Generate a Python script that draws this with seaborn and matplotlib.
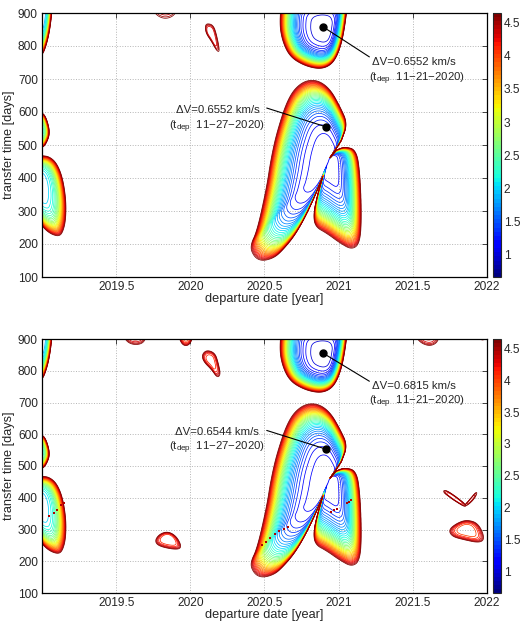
import numpy as np
import matplotlib
matplotlib.use("Agg")
import matplotlib.pyplot as plt
import seaborn as sns
from matplotlib.colors import Normalize
from matplotlib.ticker import FuncFormatter

# ---- values (year, days) ----
pinch = (2020.935, 457)

big_lobe = [(2021.02, 515), (2021.06, 565), (2021.01, 616), (2020.94, 672), (2020.85, 699),
            (2020.75, 692), (2020.66, 646), (2020.58, 535), (2020.54, 450), (2020.515, 374),
            (2020.45, 240), (2020.40, 192), (2020.43, 160), (2020.48, 148), (2020.55, 155),
            (2020.605, 172), (2020.717, 232), (2020.83, 333), (2020.90, 416)]
right_lobe = [(2020.985, 485), (2021.043, 495), (2021.12, 485), (2021.144, 414), (2021.155, 283),
              (2021.144, 202), (2021.09, 182), (2021.01, 202), (2020.92, 232), (2020.84, 252),
              (2020.83, 293), (2020.86, 354), (2020.905, 424)]
upper_lobe = [(2020.62, 960), (2020.60, 870), (2020.62, 815), (2020.67, 768), (2020.76, 742),
              (2020.86, 730), (2020.93, 737), (2020.98, 760), (2021.02, 808), (2021.045, 870),
              (2021.06, 930), (2021.0, 980), (2020.8, 990)]
left_top = [(2018.93, 990), (2019.03, 980), (2019.07, 930), (2019.062, 880), (2019.045, 830),
            (2019.02, 790), (2019.0, 772), (2018.97, 775), (2018.92, 840), (2018.91, 920)]
left_mid = [(2019.0, 600), (2019.03, 582), (2019.055, 537), (2019.03, 505), (2019.0, 490),
            (2018.95, 497), (2018.93, 545), (2018.95, 592)]
left_low = [(2018.93, 470), (2019.0, 468), (2019.05, 465), (2019.1, 445), (2019.14, 400),
            (2019.163, 330), (2019.16, 270), (2019.14, 235), (2019.115, 223), (2019.07, 228),
            (2019.03, 240), (2019.0, 255), (2018.93, 300), (2018.9, 390)]
drop_top = [(2020.111, 869), (2020.155, 864), (2020.178, 833), (2020.2, 783), (2020.18, 783),
            (2020.144, 813), (2020.106, 838), (2020.099, 859)]
bump_top = [(2019.73, 935), (2019.76, 895), (2019.83, 880), (2019.9, 893), (2019.93, 935),
            (2019.9, 980), (2019.83, 990), (2019.76, 975)]

drop_bot = [(2020.111, 866), (2020.167, 856), (2020.189, 824), (2020.205, 788), (2020.182, 777),
            (2020.144, 803), (2020.088, 829), (2020.077, 851)]
island_a = [(2019.762, 268), (2019.796, 287), (2019.852, 294), (2019.908, 278), (2019.942, 247),
            (2019.919, 236), (2019.829, 242), (2019.773, 252)]
island_b = [(2021.74, 299), (2021.796, 320), (2021.864, 331), (2021.942, 320), (2021.987, 273),
            (2021.953, 257), (2021.84, 268), (2021.763, 278)]
arm_left = [(2021.71, 425), (2021.74, 420), (2021.80, 400), (2021.86, 378), (2021.855, 370),
            (2021.80, 385), (2021.73, 408), (2021.705, 418)]
arm_right = [(2021.85, 372), (2021.88, 380), (2021.92, 400), (2021.935, 416), (2021.925, 418),
             (2021.89, 398), (2021.86, 382), (2021.845, 376)]
bump_b1 = [(2019.54, 920), (2019.57, 890), (2019.63, 880), (2019.69, 888), (2019.71, 920),
           (2019.68, 960), (2019.6, 965), (2019.55, 950)]
bump_b2 = [(2019.92, 910), (2019.94, 885), (2019.97, 877), (2020.0, 885), (2020.02, 910),
           (2020.0, 950), (2019.95, 950)]
bump_b3 = [(2021.52, 905), (2021.56, 885), (2021.62, 877), (2021.67, 890), (2021.68, 920),
           (2021.64, 955), (2021.56, 955)]
bump_b4 = [(2021.93, 925), (2021.95, 900), (2021.97, 895), (2021.99, 900), (2022.01, 925),
           (2021.97, 960)]

# lobe: (outline, centre, base dV, pinch?, steepness)
lobes_top = [
    (big_lobe, pinch, 1.05, True, 3.8),
    (right_lobe, pinch, 1.1, True, 3.0),
    (upper_lobe, (2020.91, 850), 0.95, False, 3.8),
    (left_top, (2018.99, 890), 1.8, False, 4.0),
    (left_mid, (2018.98, 545), 2.3, False, 4.0),
    (left_low, (2018.97, 385), 1.9, False, 3.5),
    (drop_top, (2020.135, 840), 4.2, False, 4.0),
    (bump_top, (2019.83, 935), 4.25, False, 4.0),
]
lobes_bot = [
    (big_lobe, pinch, 1.05, True, 3.8),
    (right_lobe, pinch, 1.1, True, 3.0),
    (upper_lobe, (2020.91, 850), 0.95, False, 3.8),
    (left_top, (2018.99, 890), 1.8, False, 4.0),
    (left_mid, (2018.98, 545), 2.3, False, 4.0),
    (left_low, (2018.97, 385), 1.9, False, 3.5),
    (drop_bot, (2020.135, 835), 4.05, False, 4.0),
    (island_a, (2019.85, 272), 4.0, False, 4.0),
    (island_b, (2021.86, 300), 3.93, False, 4.0),
    (arm_left, (2021.78, 398), 4.2, False, 4.0),
    (arm_right, (2021.89, 395), 4.35, False, 4.0),
    (bump_b1, (2019.62, 925), 4.1, False, 4.0),
    (bump_b2, (2019.97, 915), 3.9, False, 4.0),
    (bump_b3, (2021.6, 920), 4.15, False, 4.0),
    (bump_b4, (2021.97, 930), 4.4, False, 4.0),
]

track_x = [2019.05, 2019.08, 2019.10, 2019.13, 2019.145,
           2020.48, 2020.51, 2020.54, 2020.57, 2020.60, 2020.63, 2020.66,
           2020.95, 2020.97, 2020.99, 2021.055, 2021.07, 2021.08]
track_y = [343, 352, 362, 376, 384,
           250, 262, 274, 285, 295, 302, 308,
           355, 360, 366, 382, 388, 393]

# annotations: dot, line end, dV label, departure date, side of text
notes_top = [((2020.895, 858), (2021.207, 767), "ΔV=0.6552 km/s", "11−21−2020", "left"),
             ((2020.915, 555), (2020.515, 612), "ΔV=0.6552 km/s", "11−27−2020", "right")]
notes_bot = [((2020.893, 856), (2021.207, 767), "ΔV=0.6815 km/s", "11−21−2020", "left"),
             ((2020.915, 553), (2020.515, 612), "ΔV=0.6544 km/s", "11−27−2020", "right")]

VMIN, VMAX = 0.655, 4.65
levels = np.arange(0.7, 4.61, 0.1)
cbar_ticks = [1, 1.5, 2, 2.5, 3, 3.5, 4, 4.5]

SX, SY = 148.3, 0.33   # pixel aspect, so angles look right


def chaikin(P, closed, n=3):
    for _ in range(n):
        Q = np.roll(P, -1, axis=0) if closed else P[1:]
        A = P if closed else P[:-1]
        mid = np.empty((2 * len(A), 2))
        mid[0::2] = 0.75 * A + 0.25 * Q
        mid[1::2] = 0.25 * A + 0.75 * Q
        P = mid if closed else np.vstack([P[:1], mid, P[-1:]])
    return P


def lobe_field(X, Y, outline, center, vmin, is_pinch, q, vtop=4.62):
    cx, cy = center
    pts = chaikin(np.array(outline, float), closed=not is_pinch)
    du = (pts[:, 0] - cx) * SX
    dv = (pts[:, 1] - cy) * SY
    th = np.arctan2(dv, du)
    rr = np.hypot(du, dv)
    if is_pinch:
        # keep points whose angle keeps moving one way, then shut the lobe at the pinch
        th = np.unwrap(th)
        sgn = np.sign(th[-1] - th[0])
        keep = [0]
        for i in range(1, len(th)):
            if sgn * (th[i] - th[keep[-1]]) > 0.002:
                keep.append(i)
        th, rr = th[keep], rr[keep]
        th = np.r_[th[0] - sgn * 0.03, th, th[-1] + sgn * 0.03]
        rr = np.r_[0.0, rr, 0.0]
        th = (th + np.pi) % (2 * np.pi) - np.pi
    o = np.argsort(th)
    th, rr = th[o], rr[o]
    gu = (X - cx) * SX
    gv = (Y - cy) * SY
    R = np.interp(np.arctan2(gv, gu), th, rr, period=2 * np.pi)
    f = np.clip(np.hypot(gu, gv) / np.maximum(R, 1e-6), 0, 30)
    return vmin + (vtop - vmin) * f ** q


xs = np.linspace(2018.85, 2022.15, 1500)
ys = np.linspace(50, 1000, 1100)
X, Y = np.meshgrid(xs, ys)

sns.set_style("white")
plt.rcParams["font.family"] = ["Liberation Sans", "DejaVu Sans"]
plt.rcParams["mathtext.default"] = "regular"

cmap = plt.get_cmap("jet").resampled(64)

fig = plt.figure(figsize=(5.25, 6.22), dpi=100)
W, H = 525, 622
panels = [(13, 277, lobes_top, notes_top, False), (339, 593, lobes_bot, notes_bot, True)]

for top, bot, lobes, notes, tracks in panels:
    ax = fig.add_axes([42 / W, 1 - bot / H, 445 / W, (bot - top) / H])
    cax = fig.add_axes([493 / W, 1 - bot / H, 8 / W, (bot - top) / H])
    norm = Normalize(VMIN, VMAX)

    V = np.minimum.reduce([lobe_field(X, Y, *lb) for lb in lobes])
    ax.contour(X, Y, V, levels=levels, cmap=cmap, norm=norm, linewidths=0.55)

    if tracks:
        sns.scatterplot(x=track_x, y=track_y, ax=ax, color="#b00000", marker="s",
                        s=3, linewidth=0, zorder=4)

    for dot, end, dv_txt, date, side in notes:
        ax.plot([dot[0], end[0]], [dot[1], end[1]], color="black", lw=0.8, zorder=5)
        ax.plot(*dot, "o", color="black", ms=5, zorder=6)
        if side == "left":
            ax.text(2021.223, 751, dv_txt, ha="left", va="center", fontsize=8.2)
            ax.text(2021.207, 701, "(t$_{dep}$  " + date + ")", ha="left", va="center", fontsize=8.2)
        else:
            ax.text(2020.465, 607, dv_txt, ha="right", va="center", fontsize=8.2)
            ax.text(2020.504, 556, "(t$_{dep}$  " + date + ")", ha="right", va="center", fontsize=8.2)

    ax.set_xlim(2019, 2022)
    ax.set_ylim(100, 900)
    ax.set_xticks([2019.5, 2020, 2020.5, 2021, 2021.5, 2022])
    ax.set_xticklabels(["2019.5", "2020", "2020.5", "2021", "2021.5", "2022"])
    ax.set_yticks(range(100, 901, 100))
    ax.grid(True, color="#b5b5b5", linestyle=":", linewidth=0.7)
    ax.tick_params(direction="in", length=3.5, width=0.6, top=True, right=True,
                   labelsize=8.6, pad=3)
    for s in ax.spines.values():
        s.set_color("black")
        s.set_linewidth(0.9)
    ax.set_xlabel("departure date [year]", fontsize=9.2, labelpad=0)
    ax.set_ylabel("transfer time [days]", fontsize=9.2, labelpad=2)

    cb = fig.colorbar(plt.cm.ScalarMappable(norm=norm, cmap=cmap), cax=cax,
                      ticks=cbar_ticks, format=FuncFormatter(lambda v, p: f"{v:g}"))
    cax.tick_params(direction="in", length=2, width=0.6, left=True, right=True,
                    labelsize=8.6, pad=2)
    cb.outline.set_linewidth(0.8)

fig.savefig("out.png", dpi=100)
